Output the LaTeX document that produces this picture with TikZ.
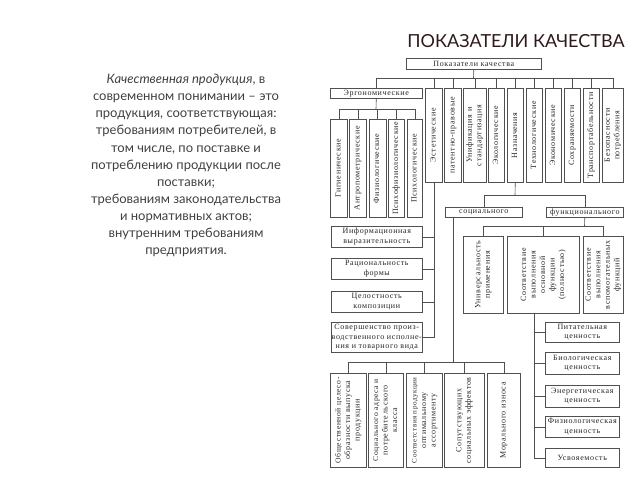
\documentclass[tikz,border=0pt]{standalone}
\usepackage{fontspec}
\setmainfont{Liberation Serif}
\newfontfamily\bodyfont{Lato}
\newfontfamily\dfont[LetterSpace=8]{Liberation Serif}
\definecolor{linec}{HTML}{505050}
\definecolor{boxtext}{HTML}{262626}
\definecolor{bodyc}{HTML}{404040}
\definecolor{titlec}{HTML}{2E1A1C}
\newcommand\rt[1]{\rotatebox{90}{\begin{tabular}{@{}c@{}}#1\end{tabular}}}
\newcommand\hz[1]{\begin{tabular}{@{}c@{}}#1\end{tabular}}
\newcommand\bx[6]{\node[box, minimum width=#4pt, minimum height=#5pt] (#1) at (#2,#3) {#6};}
\begin{document}
\begin{tikzpicture}[x=1pt,y=-1pt,
  box/.style={draw=linec, line width=0.6pt, fill=white, inner sep=0pt, anchor=north west,
    text=boxtext, font=\dfont\fontsize{8}{9.5}\selectfont, align=center},
  ln/.style={draw=linec, line width=0.6pt}]
\useasboundingbox (0,0) rectangle (640,480);

% title and description
\node[font=\bodyfont\fontsize{18}{20}\selectfont, text=titlec] (title) at (516,41.5) {ПОКАЗАТЕЛИ КАЧЕСТВА};
\node[font=\bodyfont\fontsize{13}{17.1}\selectfont, text=bodyc, align=center] (desc) at (186,165.5)
{{\itshape Качественная продукция}, в\\
современном понимании – это\\
продукция, соответствующая:\\
требованиям потребителей, в\\
том числе, по поставке и\\
потреблению продукции после\\
поставки;\\
требованиям законодательства\\
и нормативных актов;\\
внутренним требованиям\\
предприятия.};

% top
\bx{T}{406}{58}{135}{11}{Показатели качества}
\coordinate (busT) at (473.5,78);

% first row
\bx{E}{330}{88}{92}{10}{Эргономические}
\bx{A}{425}{88}{17}{94}{\rt{Эстетические}}
\bx{P}{444}{88}{17}{94}{\rt{патентно-правовые}}
\bx{U}{463}{88}{23}{94}{\rt{Унификация и\\стандартизация}}
\bx{Ek}{488}{88}{16}{94}{\rt{Экологические}}
\bx{N}{507}{88}{16}{94}{\rt{Назначения}}
\bx{Te}{526}{88}{16}{94}{\rt{Технологические}}
\bx{Ec}{545}{88}{16}{94}{\rt{Экономические}}
\bx{So}{564}{88}{16}{94}{\rt{Сохраняемости}}
\bx{Tr}{583}{88}{16}{94}{\rt{Транспортабельности}}
\bx{B}{602}{88}{21}{94}{\rt{Безопасности\\потребления}}

\draw[ln] (T.south) -- (busT);
\foreach \n in {E,A,P,U,Ek,N,Te,Ec,So,Tr,B} {\draw[ln] (busT) -| (\n.north);}

% ergonomic children
\bx{g1}{330}{119}{17}{98}{\rt{Гигиенические}}
\bx{g2}{349}{119}{17}{98}{\rt{Антропометрические}}
\bx{g3}{368.5}{119}{17}{98}{\rt{Физиологические}}
\bx{g4}{388}{119}{16}{98}{\rt{Психофизиологические}}
\bx{g5}{407}{119}{15}{98}{\rt{Психологические}}
\coordinate (busE) at (376,109);
\draw[ln] (E.south) -- (busE);
\foreach \n in {g1,g2,g3,g4,g5} {\draw[ln] (busE) -| (\n.north);}

% aesthetic children
\bx{i1}{331}{226}{91}{21}{\hz{Информационная\\выразительность}}
\bx{i2}{331}{258}{91}{21}{\hz{Рациональность\\формы}}
\bx{i3}{331}{291}{91}{21}{\hz{Целостность\\композиции}}
\bx{i4}{331}{322}{91}{30}{\hz{Совершенство произ-\\водственного исполне-\\ния и товарного вида}}
\draw[ln] (A.south) -- (A.south |- i4.east) -- (i4.east);
\foreach \n in {i1,i2,i3} {\draw[ln] (\n.east) -- (\n.east -| A.south);}

% purpose children
\bx{soc}{445}{207}{77}{10}{социального}
\bx{fun}{546}{207}{77}{10}{функционального}
\coordinate (busN) at (515,195);
\draw[ln] (N.south) -- (busN);
\draw[ln] (busN) -| (soc.north);
\draw[ln] (busN) -| (fun.north);

% functional children
\bx{u1}{463}{236}{40}{77}{\rt{Универсальность\\применения}}
\bx{u2}{507}{236}{72}{77}{\rt{\fontsize{8}{10.5}\selectfont Соответствие\\выполнения\\основной\\функции\\(полностью)}}
\bx{u3}{583}{236}{40}{77}{\rt{Соответствие\\выполнения\\вспомогательных\\функций}}
\coordinate (busF) at (584.5,226);
\draw[ln] (fun.south) -- (busF);
\foreach \n in {u1,u2,u3} {\draw[ln] (busF) -| (\n.north);}

% value children
\bx{v1}{545}{322}{74}{20}{\hz{Питательная\\ценность}}
\bx{v2}{545}{352}{74}{22}{\hz{Биологическая\\ценность}}
\bx{v3}{545}{385}{74}{22}{\hz{Энергетическая\\ценность}}
\bx{v4}{545}{416}{74}{21}{\hz{Физиологическая\\ценность}}
\bx{v5}{545}{448}{74}{19}{Усвояемость}
\coordinate (busV) at (534,457.5);
\draw[ln] (busV |- u2.south) -- (busV);
\foreach \n in {v1,v2,v3,v4,v5} {\draw[ln] (\n.west) -- (\n.west -| busV);}

% social children
\bx{b1}{330}{373}{36}{94}{\rt{\fontsize{7.6}{9.5}\selectfont Общественной целесо-\\образности выпуска\\продукции}}
\bx{b2}{368}{373}{35}{94}{\rt{\fontsize{7.6}{9.5}\selectfont Социального адреса и\\потребительского\\класса}}
\bx{b3}{406}{373}{36}{94}{\rt{\fontsize{7}{9.5}\selectfont Соответствия продукции\\оптимальному\\ассортименту}}
\bx{b4}{444}{373}{40}{94}{\rt{Сопутствующих\\социальных эффектов}}
\bx{b5}{487}{373}{33}{94}{\rt{Морального износа}}
\coordinate (busS) at (453,362);
\draw[ln] (busS |- soc.south) -- (busS);
\foreach \n in {b1,b2,b3,b4,b5} {\draw[ln] (busS) -| (\n.north);}
\end{tikzpicture}
\end{document}
